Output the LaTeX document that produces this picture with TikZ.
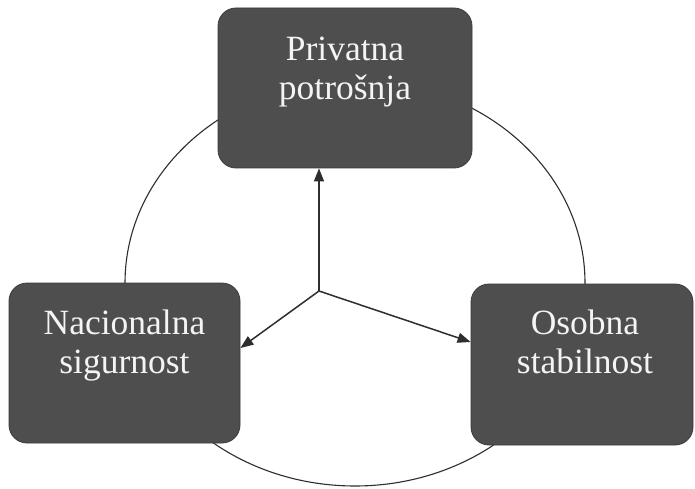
\documentclass[tikz,border=0pt]{standalone}
\usepackage{fontspec}
\setmainfont{Liberation Serif}
\usetikzlibrary{arrows.meta}
\definecolor{boxfill}{HTML}{4E4E4E}
\definecolor{boxline}{HTML}{3A3A3A}
\definecolor{ink}{HTML}{2E2E2E}
\definecolor{txt}{HTML}{F4F4F4}
\tikzset{
  stepbox/.style={draw=boxline, line width=0.8pt, fill=boxfill, rounded corners=18pt, inner sep=0pt},
  lbl/.style={anchor=base, inner sep=0pt, text=txt, font=\fontsize{35.5}{39}\selectfont},
  ring/.style={draw=ink, line width=1.1pt},
  arr/.style={draw=ink, line width=1.5pt, -{Triangle[length=13pt,width=10pt]}}
}
\begin{document}
\begin{tikzpicture}[x=1pt,y=-1pt]
\useasboundingbox (0,0) rectangle (695,489);
\fill[white] (0,0) rectangle (695,489);
% ring behind the boxes
\draw[ring] (355,283) ellipse [x radius=230, y radius=203];
% boxes
\node[stepbox, minimum width=254pt, minimum height=160pt] (P) at (345,88) {};
\node[stepbox, minimum width=231pt, minimum height=160pt] (N) at (124.5,363) {};
\node[stepbox, minimum width=222pt, minimum height=161pt] (O) at (582,364.5) {};
% labels
\node[lbl] (p1) at (345,61) {Privatna};
\node[lbl] (p2) at (345,100) {potrošnja};
\node[lbl] (n1) at (124.5,334) {Nacionalna};
\node[lbl] (n2) at (124.5,373) {sigurnost};
\node[lbl] (o1) at (585,334) {Osobna};
\node[lbl] (o2) at (585,373) {stabilnost};
% connectors
\coordinate (J) at (319,291);
\draw[arr] (J) -- (J |- P.south);
\draw[arr] (J) -- ([yshift=15pt]N.east);
\draw[arr] (J) -- ([yshift=22.5pt]O.west);
\end{tikzpicture}
\end{document}
